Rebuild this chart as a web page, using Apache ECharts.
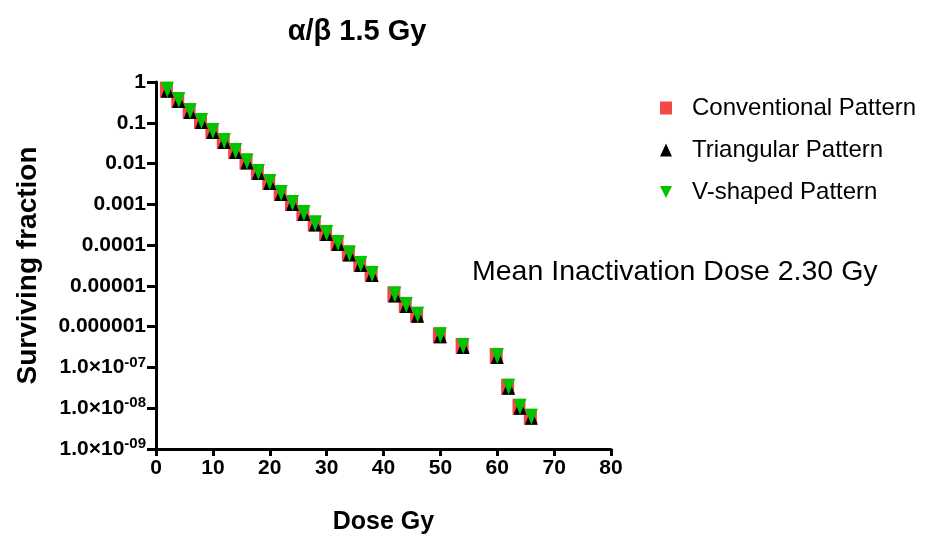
<!DOCTYPE html>
<html>
<head>
<meta charset="utf-8">
<script src="https://cdn.jsdelivr.net/npm/echarts@6/dist/echarts.min.js"></script>
<style>
  html, body { margin: 0; padding: 0; background: #fff; }
  #chart { width: 925px; height: 540px; }
</style>
</head>
<body>
<div id="chart"></div>
<script>
// dose (Gy) and surviving fraction
var doses = [2, 4, 6, 8, 10, 12, 14, 16, 18, 20, 22, 24, 26, 28, 30, 32, 34, 36, 38, 42, 44, 46, 50, 54, 60, 62, 64, 66];
var conventional = [0.647, 0.362, 0.195, 0.111, 0.063, 0.0358, 0.0204, 0.01125, 0.00622, 0.00354, 0.0019, 0.00108, 0.000615, 0.00034, 0.000199, 0.000113, 6.26e-5, 3.46e-5, 1.97e-5, 6.19e-6, 3.42e-6, 1.95e-6, 6.12e-7, 3.38e-7, 1.92e-7, 3.35e-8, 1.08e-8, 6.15e-9];
var triangular = [0.647, 0.362, 0.195, 0.111, 0.063, 0.0358, 0.0204, 0.01125, 0.00622, 0.00354, 0.0019, 0.00108, 0.000615, 0.00034, 0.000199, 0.000113, 6.26e-5, 3.46e-5, 1.97e-5, 6.19e-6, 3.42e-6, 1.95e-6, 6.12e-7, 3.38e-7, 1.92e-7, 3.35e-8, 1.08e-8, 6.15e-9];
var vShaped = [0.647, 0.362, 0.195, 0.111, 0.063, 0.0358, 0.0204, 0.01125, 0.00622, 0.00354, 0.0019, 0.00108, 0.000615, 0.00034, 0.000199, 0.000113, 6.26e-5, 3.46e-5, 1.97e-5, 6.19e-6, 3.42e-6, 1.95e-6, 6.12e-7, 3.38e-7, 1.92e-7, 3.35e-8, 1.08e-8, 6.15e-9];
var seriesNames = ['Conventional Pattern', 'Triangular Pattern', 'V-shaped Pattern'];
// y tick labels, indexed by -log10(value)
var yTickLabels = ['1', '0.1', '0.01', '0.001', '0.0001', '0.00001', '0.000001', '1.0×10{s|-07}', '1.0×10{s|-08}', '1.0×10{s|-09}'];

var FONT = '"Liberation Sans", Arial, sans-serif';
var DOWN_TRI = 'path://M0,0 L10,0 L5,10 Z';

function pairs(ys) {
  var out = [];
  for (var i = 0; i < doses.length; i++) out.push([doses[i], ys[i]]);
  return out;
}

var chart = echarts.init(document.getElementById('chart'), null, { renderer: 'canvas' });

var option = {
  animation: false,
  title: {
    text: 'α/β 1.5 Gy',
    left: 352,
    top: 12,
    textAlign: 'center',
    textStyle: { fontFamily: FONT, fontSize: 29, fontWeight: 'bold', color: '#000' }
  },
  legend: {
    orient: 'vertical',
    left: 655,
    top: 91,
    itemGap: 18,
    itemWidth: 12,
    itemHeight: 13,
    data: seriesNames,
    textStyle: { fontFamily: FONT, fontSize: 24, color: '#000', padding: [0, 0, 0, 15] }
  },
  grid: { left: 156, right: 314, top: 82, bottom: 91, containLabel: false },
  xAxis: {
    type: 'value',
    min: 0, max: 80, interval: 10,
    name: 'Dose Gy',
    nameLocation: 'middle',
    nameGap: 61,
    nameTextStyle: { fontFamily: FONT, fontSize: 25, fontWeight: 'bold', color: '#000' },
    axisLine: { lineStyle: { color: '#000', width: 3 } },
    axisTick: { inside: false, length: 7, lineStyle: { color: '#000', width: 3 } },
    axisLabel: { fontFamily: FONT, fontSize: 21, fontWeight: 'bold', color: '#000', margin: 9 },
    splitLine: { show: false }
  },
  yAxis: {
    type: 'log',
    logBase: 10,
    min: 1e-9, max: 1,
    name: 'Surviving fraction',
    nameLocation: 'middle',
    nameGap: 114,
    nameRotate: 90,
    nameTextStyle: { fontFamily: FONT, fontSize: 28, fontWeight: 'bold', color: '#000' },
    axisLine: { onZero: false, lineStyle: { color: '#000', width: 3 } },
    axisTick: { length: 9, lineStyle: { color: '#000', width: 3 } },
    axisLabel: {
      fontFamily: FONT, fontSize: 21, fontWeight: 'bold', color: '#000', margin: 10,
      formatter: function (v) {
        var k = Math.round(-Math.log10(v));
        return yTickLabels[k] !== undefined ? yTickLabels[k] : '';
      },
      rich: {
        s: { fontFamily: FONT, fontSize: 15, fontWeight: 'bold', color: '#000', verticalAlign: 'top', padding: [0, 0, 10, 0] }
      }
    },
    splitLine: { show: false }
  },
  series: [
    {
      name: seriesNames[0], type: 'scatter', data: pairs(conventional),
      symbol: 'rect', symbolSize: [13, 16], symbolOffset: [-1, 0],
      itemStyle: { color: '#f44848', opacity: 1 }, z: 1
    },
    {
      name: seriesNames[1], type: 'scatter', data: pairs(triangular),
      symbol: 'triangle', symbolSize: [13, 16],
      itemStyle: { color: '#000', opacity: 1 }, z: 2
    },
    {
      name: seriesNames[2], type: 'scatter', data: pairs(vShaped),
      symbol: DOWN_TRI, symbolSize: [13, 16], symbolKeepAspect: false,
      itemStyle: { color: '#00c400', opacity: 1 }, z: 3
    }
  ],
  graphic: [{
    type: 'text',
    left: 472,
    top: 258,
    style: { text: 'Mean Inactivation Dose 2.30 Gy', fontFamily: FONT, fontSize: 28.5, fill: '#000' }
  }]
};

chart.setOption(option);
</script>
</body>
</html>
